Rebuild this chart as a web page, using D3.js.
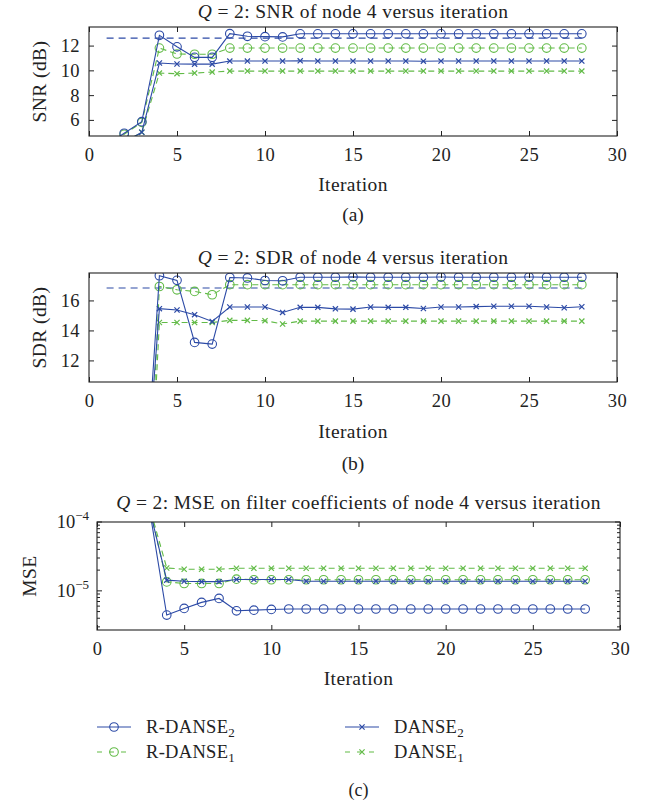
<!DOCTYPE html>
<html><head><meta charset="utf-8">
<script src="https://cdn.jsdelivr.net/npm/d3@7"></script>
<style>
body{margin:0;background:#fff;}
text{font-family:"Liberation Serif","Times New Roman",serif;fill:#222;}
</style></head>
<body><svg id="c" width="651" height="803"></svg>
<script>
const iterations = [1,2,3,4,5,6,7,8,9,10,11,12,13,14,15,16,17,18,19,20,21,22,23,24,25,26,27,28];
const xTicks = [0,5,10,15,20,25,30];

// (a) SNR (dB)
const snrR2 = [4.0,4.92,5.86,12.83,11.9,11.05,11.05,12.96,12.75,12.72,12.7,12.95,12.95,12.95,12.95,12.95,12.95,12.95,12.95,12.95,12.95,12.95,12.95,12.95,12.95,12.95,12.95,12.95];
const snrR1 = [3.9,4.84,5.8,11.8,11.32,11.3,11.3,11.8,11.8,11.8,11.8,11.8,11.8,11.8,11.8,11.8,11.8,11.8,11.8,11.8,11.8,11.8,11.8,11.8,11.8,11.8,11.8,11.8];
const snrD2 = [3.6,4.2,5.0,10.59,10.51,10.5,10.5,10.75,10.75,10.75,10.75,10.77,10.75,10.75,10.75,10.75,10.75,10.75,10.74,10.75,10.75,10.75,10.75,10.75,10.75,10.75,10.75,10.75];
const snrD1 = [3.6,4.2,5.0,9.78,9.73,9.78,9.86,9.94,9.94,9.94,9.94,9.94,9.94,9.94,9.94,9.94,9.94,9.94,9.94,9.94,9.94,9.94,9.94,9.94,9.94,9.94,9.94,9.94];
const snrRef = [12.6,12.6];
const snrTicks = [6,8,10,12];

// (b) SDR (dB)
const sdrR2 = [-6,-3,0,17.65,17.34,13.2,13.09,17.53,17.5,17.33,17.31,17.55,17.55,17.55,17.57,17.55,17.55,17.55,17.55,17.56,17.55,17.55,17.55,17.55,17.56,17.55,17.55,17.55];
const sdrR1 = [-12,-10,-8,16.93,16.71,16.6,16.38,17.05,17.05,17.05,17.05,17.05,17.05,17.05,17.05,17.05,17.05,17.05,17.05,17.05,17.05,17.05,17.05,17.05,17.05,17.05,17.05,17.05];
const sdrD2 = [-6,-3,0,15.45,15.36,15.05,14.6,15.56,15.56,15.56,15.2,15.54,15.54,15.44,15.42,15.56,15.54,15.54,15.46,15.56,15.56,15.59,15.61,15.61,15.61,15.56,15.51,15.58];
const sdrD1 = [-12,-10,-8,14.53,14.53,14.53,14.53,14.67,14.67,14.65,14.43,14.62,14.62,14.62,14.62,14.62,14.62,14.62,14.62,14.62,14.62,14.62,14.62,14.62,14.62,14.62,14.62,14.62];
const sdrRef = [16.83,16.83];
const sdrTicks = [12,14,16];

// (c) MSE on filter coefficients
const mseR2 = [4e-4,3e-4,1.6e-4,4.45e-6,5.56e-6,6.8e-6,7.76e-6,5.13e-6,5.24e-6,5.37e-6,5.45e-6,5.45e-6,5.45e-6,5.45e-6,5.45e-6,5.45e-6,5.45e-6,5.45e-6,5.45e-6,5.45e-6,5.45e-6,5.45e-6,5.45e-6,5.45e-6,5.45e-6,5.45e-6,5.45e-6,5.45e-6];
const mseR1 = [4e-4,3e-4,1.7e-4,1.35e-5,1.28e-5,1.28e-5,1.28e-5,1.48e-5,1.45e-5,1.45e-5,1.45e-5,1.45e-5,1.45e-5,1.45e-5,1.45e-5,1.45e-5,1.45e-5,1.45e-5,1.45e-5,1.45e-5,1.45e-5,1.45e-5,1.45e-5,1.45e-5,1.45e-5,1.45e-5,1.45e-5,1.45e-5];
const mseD2 = [4e-4,3e-4,1.6e-4,1.43e-5,1.38e-5,1.36e-5,1.36e-5,1.46e-5,1.46e-5,1.46e-5,1.46e-5,1.38e-5,1.38e-5,1.38e-5,1.38e-5,1.38e-5,1.38e-5,1.38e-5,1.38e-5,1.38e-5,1.38e-5,1.38e-5,1.38e-5,1.38e-5,1.38e-5,1.38e-5,1.38e-5,1.38e-5];
const mseD1 = [4e-4,3e-4,1.7e-4,2.15e-5,2.06e-5,2.06e-5,2.06e-5,2.13e-5,2.13e-5,2.13e-5,2.13e-5,2.13e-5,2.13e-5,2.13e-5,2.13e-5,2.13e-5,2.13e-5,2.13e-5,2.13e-5,2.13e-5,2.13e-5,2.13e-5,2.13e-5,2.13e-5,2.13e-5,2.13e-5,2.13e-5,2.13e-5];
const refX = [1,28];

const seriesNames = ["R-DANSE","R-DANSE","DANSE","DANSE"];
const seriesSubs = ["2","1","2","1"];

const BLUE = "#2c4aa6", GREEN = "#62bb47";
const styles = [
  {color:BLUE, dash:null, marker:"o"},
  {color:GREEN, dash:"6,4", marker:"o"},
  {color:BLUE, dash:null, marker:"x"},
  {color:GREEN, dash:"6,4", marker:"x"}
];

const svg = d3.select("#c");
const FS = 18.5;      // tick labels
const LS = 19.5;      // labels / titles
const SP = "0.4px";   // letter spacing

function drawMarker(g, type, x, y, color){
  if(type==="o"){
    g.append("circle").attr("cx",x).attr("cy",y).attr("r",4.3)
      .attr("fill","none").attr("stroke",color).attr("stroke-width",1.1);
  } else {
    const s=2.6;
    g.append("path").attr("d",`M${x-s},${y-s}L${x+s},${y+s}M${x-s},${y+s}L${x+s},${y-s}`)
      .attr("stroke",color).attr("stroke-width",1.2).attr("fill","none");
  }
}

function panel(cfg){
  const {L,R,T,B,id} = cfg;
  const x = d3.scaleLinear().domain([0,30]).range([L,R]);
  const y = cfg.log ? d3.scaleLog().domain(cfg.yDomain).range([B,T])
                    : d3.scaleLinear().domain(cfg.yDomain).range([B,T]);
  const clipId = "clip"+id;
  svg.append("clipPath").attr("id",clipId).append("rect")
    .attr("x",L).attr("y",T).attr("width",R-L).attr("height",B-T);
  const g = svg.append("g").attr("clip-path",`url(#${clipId})`);

  if(cfg.ref){
    g.append("path").datum(refX.map((d,i)=>[d,cfg.ref[i]]))
      .attr("d",d3.line().x(d=>x(d[0])).y(d=>y(d[1])))
      .attr("fill","none").attr("stroke",BLUE).attr("stroke-width",1.1)
      .attr("stroke-dasharray","7,5");
  }
  const order=[3,1,2,0];
  order.forEach(si=>{
    const st=styles[si], vals=cfg.series[si];
    g.append("path").datum(iterations.map((d,i)=>[d,vals[i]]))
      .attr("d",d3.line().x(d=>x(d[0])).y(d=>y(d[1])))
      .attr("fill","none").attr("stroke",st.color).attr("stroke-width",1.1)
      .attr("stroke-dasharray",st.dash);
    iterations.forEach((d,i)=>{
      const py=y(vals[i]);
      if(py>=T-6 && py<=B+6) drawMarker(g,st.marker,x(d),py,st.color);
    });
  });

  svg.append("rect").attr("x",L).attr("y",T).attr("width",R-L).attr("height",B-T)
    .attr("fill","none").attr("stroke","#222").attr("stroke-width",1.1);

  const xb = svg.append("g").attr("transform",`translate(0,${B})`)
    .call(d3.axisBottom(x).tickValues(xTicks).tickSize(-5).tickPadding(12).tickFormat(d3.format("d")));
  const xt = svg.append("g").attr("transform",`translate(0,${T})`)
    .call(d3.axisTop(x).tickValues(xTicks).tickSize(-5).tickFormat(""));
  [xb,xt].forEach(a=>{a.select(".domain").remove();a.selectAll("line").attr("stroke","#222");});
  xb.selectAll("text").attr("font-size",FS).attr("fill","#222")
    .style("font-family",'"Liberation Serif",serif').style("letter-spacing",SP);

  if(!cfg.log){
    const yl = svg.append("g").attr("transform",`translate(${L},0)`)
      .call(d3.axisLeft(y).tickValues(cfg.yTicks).tickSize(-5).tickPadding(9).tickFormat(d3.format("d")));
    const yr = svg.append("g").attr("transform",`translate(${R},0)`)
      .call(d3.axisRight(y).tickValues(cfg.yTicks).tickSize(-5).tickFormat(""));
    [yl,yr].forEach(a=>{a.select(".domain").remove();a.selectAll("line").attr("stroke","#222");});
    yl.selectAll("text").attr("font-size",FS).attr("fill","#222")
      .style("font-family",'"Liberation Serif",serif').style("letter-spacing",SP);
  } else {
    const majors=[1e-5,1e-4];
    const minors=y.ticks().filter(v=>!majors.some(m=>Math.abs(v-m)/m<1e-6));
    [[L,1],[R,-1]].forEach(([px,dir])=>{
      majors.forEach(v=>svg.append("line").attr("x1",px).attr("x2",px+dir*5)
        .attr("y1",y(v)).attr("y2",y(v)).attr("stroke","#222"));
      minors.forEach(v=>svg.append("line").attr("x1",px).attr("x2",px+dir*3)
        .attr("y1",y(v)).attr("y2",y(v)).attr("stroke","#222"));
    });
    majors.forEach(v=>{
      const t=svg.append("text").attr("x",L-8).attr("y",y(v)+6).attr("text-anchor","end")
        .attr("font-size",FS);
      t.append("tspan").text("10");
      t.append("tspan").attr("dy",-8).attr("font-size",13).text("\u2212"+Math.round(-Math.log10(v)));
    });
  }

  const tt = svg.append("text").attr("x",(L+R)/2).attr("y",cfg.titleY).attr("text-anchor","middle")
    .attr("font-size",LS).style("letter-spacing",SP);
  tt.append("tspan").attr("font-style","italic").text("Q");
  tt.append("tspan").text(" = 2: "+cfg.title);

  svg.append("text").attr("x",(L+R)/2).attr("y",cfg.xlabY).attr("text-anchor","middle")
    .attr("font-size",LS).style("letter-spacing",SP).text("Iteration");
  svg.append("text").attr("transform",`translate(${cfg.ylabX},${(T+B)/2}) rotate(-90)`)
    .attr("text-anchor","middle").attr("font-size",LS).style("letter-spacing",SP).text(cfg.ylab);
  svg.append("text").attr("x",(L+R)/2).attr("y",cfg.capY).attr("text-anchor","middle")
    .attr("font-size",cfg.capFS||LS).text(cfg.cap);
}

panel({id:"a",L:89,R:617,T:27,B:136,yDomain:[4.7,13.5],yTicks:snrTicks,
  series:[snrR2,snrR1,snrD2,snrD1],ref:snrRef,title:"SNR of node 4 versus iteration",
  titleY:18,xlabY:191,ylab:"SNR (dB)",ylabX:46,capY:221,cap:"(a)"});
panel({id:"b",L:89,R:617,T:273,B:382,yDomain:[10.56,17.83],yTicks:sdrTicks,
  series:[sdrR2,sdrR1,sdrD2,sdrD1],ref:sdrRef,title:"SDR of node 4 versus iteration",
  titleY:264,xlabY:438,ylab:"SDR (dB)",ylabX:46,capY:470,cap:"(b)"});
panel({id:"c",L:97,R:620,T:522,B:630,log:true,yDomain:[2.7e-6,1e-4],
  series:[mseR2,mseR1,mseD2,mseD1],ref:null,title:"MSE on filter coefficients of node 4 versus iteration",
  titleY:509,xlabY:685,ylab:"MSE",ylabX:36,capY:796,capFS:18,cap:"(c)"});

const legPos=[[97,727],[97,752],[345,727],[345,752]];
styles.forEach((st,i)=>{
  const [lx,ly]=legPos[i];
  const g=svg.append("g");
  g.append("line").attr("x1",lx).attr("x2",lx+34).attr("y1",ly).attr("y2",ly)
    .attr("stroke",st.color).attr("stroke-width",1.1).attr("stroke-dasharray",st.dash?"5,7":null);
  drawMarker(g,st.marker,lx+17,ly,st.color);
  const t=svg.append("text").attr("x",lx+49).attr("y",ly+6).attr("font-size",18.5).style("letter-spacing","0.3px");
  t.append("tspan").text(seriesNames[i]);
  t.append("tspan").attr("dy",4).attr("font-size",13).text(seriesSubs[i]);
});
</script></body></html>
